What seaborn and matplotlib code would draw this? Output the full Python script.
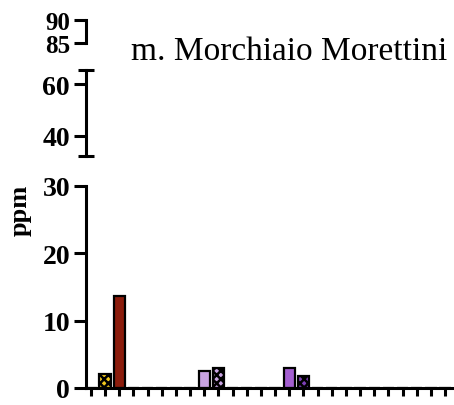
import matplotlib
matplotlib.use("Agg")
import matplotlib.pyplot as plt
import seaborn as sns
import pandas as pd

# Data (26 slots, most empty)
slots = [f"s{i}" for i in range(26)]
values = [0, 2.1, 13.7, 0, 0, 0, 0, 0, 2.5, 2.9, 0, 0, 0, 0, 3.0, 1.8,
          0, 0, 0, 0, 0, 0, 0, 0, 0, 0]
colors = ["white", "#F2C81E", "#8B1C0C", "white", "white", "white", "white", "white",
          "#C9A3E3", "#C9A3E3", "white", "white", "white", "white", "#A45FD0", "#7E40B8",
          "white", "white", "white", "white", "white", "white", "white", "white", "white", "white"]
hatched = [1, 9, 15]

title = "m. Morchiaio Morettini"

sns.set_style("ticks")
plt.rcParams["font.family"] = ["Liberation Serif", "DejaVu Serif"]
plt.rcParams["axes.edgecolor"] = "black"
plt.rcParams["xtick.color"] = "black"
plt.rcParams["ytick.color"] = "black"
plt.rcParams["text.color"] = "black"
plt.rcParams["hatch.linewidth"] = 1.8

df = pd.DataFrame({"slot": slots, "ppm": values})

fig = plt.figure(figsize=(4.54, 4.06), dpi=100)
left, right = 86 / 454, 453 / 454
ax_top = fig.add_axes([left, 1 - 44 / 406, right - left, 23 / 406])
ax_mid = fig.add_axes([left, 1 - 157 / 406, right - left, 86 / 406])
ax_bot = fig.add_axes([left, 1 - 389 / 406, right - left, 202 / 406])

sns.barplot(data=df, x="slot", y="ppm", hue="slot", palette=colors, legend=False,
            order=slots, width=0.8, saturation=1, edgecolor="black", linewidth=1.6,
            ax=ax_bot)
for i, bar in enumerate(ax_bot.patches):
    if i in hatched:
        bar.set_hatch("xxxx")

ax_bot.set_ylim(0, 30)
ax_bot.set_yticks([0, 10, 20, 30])
ax_bot.set_xlim(-0.35, 25.56)
ax_bot.set_xlabel("")
ax_bot.set_ylabel("")
ax_bot.tick_params(axis="x", length=6, width=2.2, labelbottom=False, direction="out")

ax_mid.set_ylim(32.3, 65.4)
ax_mid.set_yticks([40, 60])
ax_mid.set_yticks([32.3, 65.4], minor=True)

ax_top.set_ylim(85, 90)
ax_top.set_yticks([85, 90])

for ax in [ax_top, ax_mid, ax_bot]:
    ax.set_facecolor("none")
    for s in ["top", "right"]:
        ax.spines[s].set_visible(False)
    ax.spines["left"].set_linewidth(2.2)
    ax.tick_params(axis="y", length=8.5, width=2.2, labelsize=20, pad=3)
    for lab in ax.get_yticklabels():
        lab.set_fontweight("bold")
ax_top.tick_params(axis="y", labelsize=18)
for ax in [ax_top, ax_mid]:
    ax.spines["bottom"].set_visible(False)
    ax.set_xticks([])
    ax.set_xlim(ax_bot.get_xlim())
ax_mid.tick_params(axis="y", which="minor", length=11, width=2.2, direction="inout")
ax_bot.spines["bottom"].set_linewidth(2.2)

fig.text(0.985, 0.872, title, ha="right", va="center", fontsize=24)
fig.text(0.045, 0.482, "ppm", rotation=90, ha="center", va="center",
         fontsize=19, fontweight="bold")

fig.savefig("out.png", dpi=100)
